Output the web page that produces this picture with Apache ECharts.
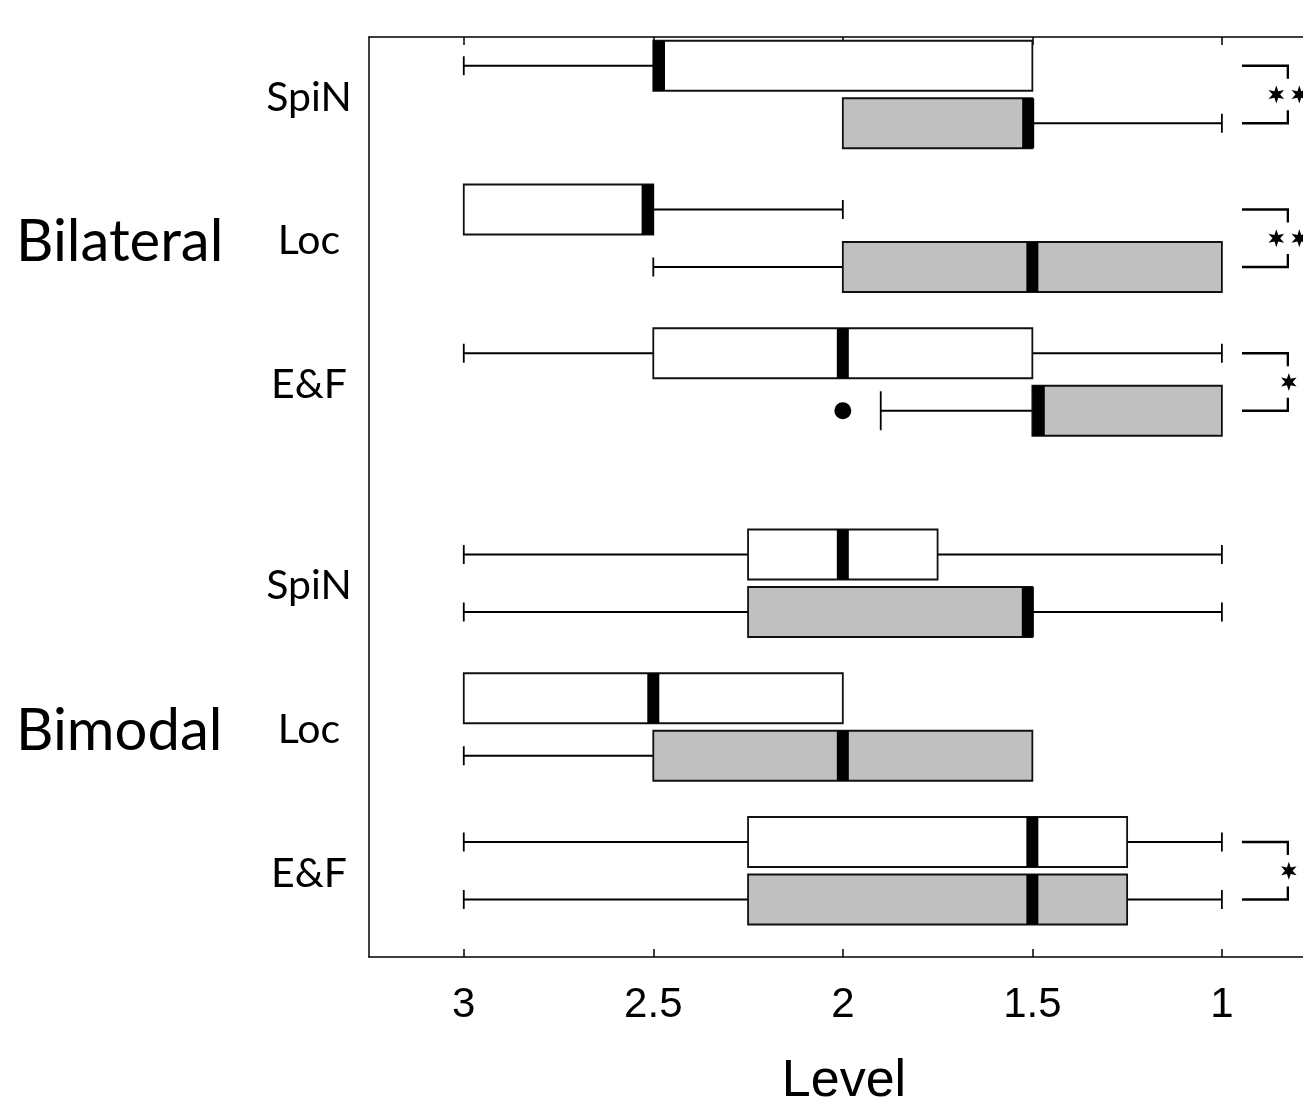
<!DOCTYPE html>
<html><head><meta charset="utf-8">
<script src="https://cdn.jsdelivr.net/npm/echarts@6/dist/echarts.min.js"></script>
<style>html,body{margin:0;padding:0;background:#fff;overflow:hidden;width:1303px;height:1106px}#c{position:absolute;left:0;top:0;width:1303px;height:1106px}</style>
</head><body><div id="c"></div>
<script>
// ---------- data ----------
const groups = ['Bilateral', 'Bimodal'];
const conditions = ['SpiN', 'Loc', 'E&F', 'SpiN', 'Loc', 'E&F'];
const tickValues = [3, 2.5, 2, 1.5, 1];
// [min, q1, median, q3, max]  (Level values)
const whiteBoxes = [
  [1.5, 1.5, 2.485, 2.5, 3],
  [2.0, 2.5, 2.515, 3, 3],
  [1.0, 1.5, 2.0, 2.5, 3],
  [1.0, 1.75, 2.0, 2.25, 3],
  [2.0, 2.0, 2.5, 3, 3],
  [1.0, 1.25, 1.5, 2.25, 3]
];
const greyBoxes = [
  [1.0, 1.5, 1.511, 2.0, 2.0],
  [1.0, 1.0, 1.5, 2.0, 2.5],
  [1.0, 1.0, 1.483, 1.5, 1.9],
  [1.0, 1.5, 1.512, 2.25, 3],
  [1.5, 1.5, 2.0, 2.5, 3],
  [1.0, 1.25, 1.5, 2.25, 3]
];
// outliers of grey boxes: [value, pair index]
const greyOutliers = [[2.0, 2]];
const significance = ['**', '**', '*', '', '', '*'];

// ---------- layout helpers ----------
function pairTop(p) { return Math.floor(p / 3) * 8.5 + (p % 3) * 2.5; }
const boxRows = [];
whiteBoxes.forEach((b, p) => { boxRows.push([pairTop(p), ...b, 0, 0]); });
greyBoxes.forEach((b, p) => {
  const has = greyOutliers.some(o => o[1] === p) ? 1 : 0;
  boxRows.push([pairTop(p) + 1, ...b, 1, has]);
});
const outlierData = greyOutliers.map(o => [o[0], pairTop(o[1]) + 1]);
const bracketData = significance.map((s, p) => [pairTop(p), pairTop(p) + 1, s.length]).filter(d => d[2] > 0);
const condLabelData = conditions.map((c, p) => [pairTop(p) + 0.5, p]);
const groupLabelData = groups.map((g, i) => [pairTop(i * 3 + 1) + 0.5, i]);

const X_MIN = 0.786, X_MAX = 3.25;
const BLACK = '#000';

function renderBox(params, api) {
  const y = api.value(0);
  const mn = api.value(1), q1 = api.value(2), md = api.value(3), q3 = api.value(4), mx = api.value(5);
  const grey = api.value(6) === 1;
  const tallCap = api.value(7) === 1;
  const px = v => api.coord([v, y]);
  const cy = px(md)[1];
  const half = 25, lw = 1.8;
  const children = [];
  const line = (x1, y1, x2, y2) => children.push({type: 'line', shape: {x1, y1, x2, y2}, style: {stroke: BLACK, lineWidth: lw}});
  if (mx > q3) {
    const a = px(mx)[0], b = px(q3)[0];
    line(a, cy, b, cy);
    const ch = tallCap ? 19.5 : 9.5;
    line(a, cy - ch, a, cy + ch);
  }
  if (mn < q1) {
    const a = px(q1)[0], b = px(mn)[0];
    line(a, cy, b, cy);
    line(b, cy - 9.5, b, cy + 9.5);
  }
  const xl = Math.min(px(q3)[0], px(q1)[0]);
  const xr = Math.max(px(q3)[0], px(q1)[0]);
  children.push({type: 'rect', shape: {x: xl, y: cy - half, width: xr - xl, height: 2 * half},
    style: {fill: grey ? '#c0c0c0' : '#fff', stroke: '#111', lineWidth: 1.8}});
  const mxp = px(md)[0];
  children.push({type: 'rect', shape: {x: mxp - 6, y: cy - half, width: 12, height: 2 * half}, style: {fill: BLACK}});
  return {type: 'group', children};
}
function starPoints(cx, cy, R, r) {
  const pts = [];
  for (let k = 0; k < 12; k++) {
    const ang = -Math.PI / 2 + k * Math.PI / 6;
    const rad = k % 2 === 0 ? R : r;
    pts.push([cx + rad * Math.cos(ang), cy + rad * Math.sin(ang)]);
  }
  return pts;
}
function renderBracket(params, api) {
  const yt = api.coord([1, api.value(0)])[1];
  const yb = api.coord([1, api.value(1)])[1];
  const n = api.value(2);
  const x1 = api.coord([0.947, 0])[0];
  const x2 = api.coord([0.826, 0])[0];
  const st = {stroke: BLACK, lineWidth: 2.3, fill: null};
  const children = [
    {type: 'polyline', shape: {points: [[x1, yt], [x2, yt], [x2, yt + 13]]}, style: st},
    {type: 'polyline', shape: {points: [[x2, yb - 13], [x2, yb], [x1, yb]]}, style: st}
  ];
  const ym = (yt + yb) / 2;
  for (let i = 0; i < n; i++) {
    const cx = x2 + (i - (n - 1) / 2) * 23 + (n === 1 ? 1 : 0);
    children.push({type: 'polygon', shape: {points: starPoints(cx, ym, 9, 3.8)}, style: {fill: BLACK}});
  }
  return {type: 'group', children};
}
function renderCondLabel(params, api) {
  const y = api.coord([X_MAX, api.value(0)])[1];
  const gx = api.coord([X_MAX, 0])[0];
  return {type: 'text', style: {text: conditions[api.value(1)], x: gx - 60, y: y + 3, align: 'center', verticalAlign: 'middle',
    fontSize: 41, fontFamily: 'Lato', fill: BLACK}};
}
function renderGroupLabel(params, api) {
  const y = api.coord([X_MAX, api.value(0)])[1];
  const gx = api.coord([X_MAX, 0])[0];
  return {type: 'text', style: {text: groups[api.value(1)], x: gx - 353, y: y + 4, align: 'left', verticalAlign: 'middle',
    fontSize: 58, fontFamily: 'Lato', fill: BLACK}};
}

const axisLineStyle = {color: BLACK, width: 1.5};
const chart = echarts.init(document.getElementById('c'), null, {renderer: 'canvas', width: 1303, height: 1106});
chart.setOption({
  animation: false,
  backgroundColor: '#fff',
  grid: {left: 369, top: 37, width: 934, height: 920, containLabel: false, outerBoundsMode: 'none'},
  xAxis: [
    {type: 'value', inverse: true, min: X_MIN, max: X_MAX, position: 'bottom',
      axisLine: {show: true, onZero: false, lineStyle: axisLineStyle},
      axisTick: {show: true, inside: true, length: 8, customValues: tickValues, lineStyle: axisLineStyle},
      axisLabel: {show: true, customValues: tickValues, fontSize: 42, color: BLACK, fontFamily: 'Liberation Sans', margin: 27,
        formatter: v => String(v)},
      splitLine: {show: false},
      name: 'Level', nameLocation: 'middle', nameGap: 99,
      nameTextStyle: {fontSize: 52, color: BLACK, fontFamily: 'Liberation Sans', padding: [0, 0, 0, 16]}},
    {type: 'value', inverse: true, min: X_MIN, max: X_MAX, position: 'top',
      axisLine: {show: true, onZero: false, lineStyle: axisLineStyle},
      axisTick: {show: true, inside: true, length: 8, customValues: tickValues, lineStyle: axisLineStyle},
      axisLabel: {show: false}, splitLine: {show: false}}
  ],
  yAxis: {type: 'value', inverse: true, min: -0.5, max: 15.5,
    axisLine: {show: true, onZero: false, lineStyle: axisLineStyle}, axisTick: {show: false}, axisLabel: {show: false}, splitLine: {show: false}},
  series: [
    {type: 'custom', renderItem: renderBox, data: boxRows, clip: false, silent: true},
    {type: 'scatter', data: outlierData, symbol: 'circle', symbolSize: 17, itemStyle: {color: BLACK, opacity: 1}, silent: true},
    {type: 'custom', renderItem: renderBracket, data: bracketData, clip: false, silent: true},
    {type: 'custom', renderItem: renderCondLabel, data: condLabelData, clip: false, silent: true},
    {type: 'custom', renderItem: renderGroupLabel, data: groupLabelData, clip: false, silent: true}
  ]
});
</script>
</body></html>
